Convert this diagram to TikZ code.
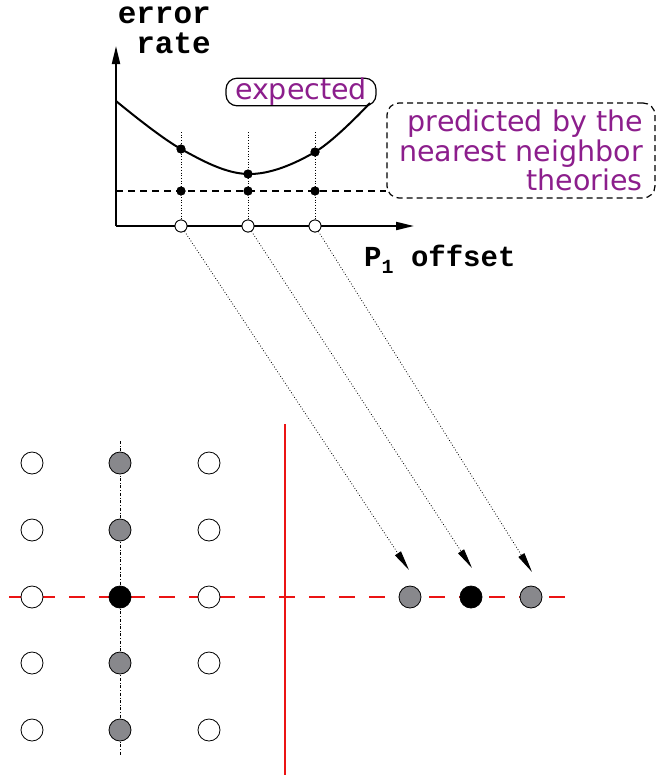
\documentclass[tikz,border=0pt]{standalone}
\usepackage{fontspec}
\newfontfamily\cour{Liberation Mono}
\newfontfamily\hand{DejaVu Sans}
\usetikzlibrary{arrows.meta}
\definecolor{handpurple}{RGB}{140,30,140}
\definecolor{dotgray}{RGB}{136,136,140}
\definecolor{gridred}{RGB}{235,20,20}
\tikzset{
  axis/.style={line width=2pt,-{Triangle[length=18pt,width=8pt]}},
  bdot/.style={circle,fill=black,inner sep=0pt,minimum size=9pt},
  wdot/.style={circle,draw=black,fill=white,line width=0.8pt,inner sep=0pt,minimum size=12pt},
  guide/.style={dotted,line width=0.7pt},
  maparrow/.style={dotted,line width=0.8pt,-{Triangle[length=20pt,width=7pt]}},
  lat/.style={circle,draw=black,line width=0.8pt,inner sep=0pt,minimum size=22pt,fill=white},
  latg/.style={lat,fill=dotgray},
  latb/.style={lat,fill=black},
  htext/.style={text=handpurple,font=\hand\fontsize{28.5}{29.5}\selectfont},
  mono/.style={font=\cour\bfseries\fontsize{31}{30}\selectfont,inner sep=0pt},
}
\begin{document}
\begin{tikzpicture}[x=1pt,y=-1pt]
\useasboundingbox (0,0) rectangle (657,777);
% axes
\coordinate (O) at (116,226);
\coordinate (ytip) at (116,46);
\coordinate (xtip) at (414,226);
\draw[axis] (O) -- (ytip);
\draw[axis] (O) -- (xtip);
\node[mono,align=right,anchor=base east] (ylab) at (211,53) {error\\rate};
\node[mono,font=\cour\bfseries\fontsize{29}{30}\selectfont,anchor=base west] (xlab) at (364,266) {P\raisebox{-7pt}{\fontsize{20}{20}\selectfont 1} offset};
% labels
\node[htext,draw=black,line width=1.2pt,rounded corners=11pt,minimum width=150pt,minimum height=22pt,inner sep=0pt] (exp) at (301,92) {expected};
\node[htext,draw=black,dash pattern=on 6pt off 4pt,line width=1.2pt,rounded corners=12pt,minimum width=268pt,minimum height=95pt,align=right,inner sep=3pt] (pred) at (521,150.5) {predicted by the\\nearest neighbor\\theories};
% guides
\foreach \i/\x in {1/181,2/248,3/315}{
  \coordinate (top\i) at (\x,132);
  \node[bdot] (n\i) at (\x,191) {};
  \node[wdot] (w\i) at (\x,226) {};
  \draw[guide] (top\i) -- (w\i);
}
\node[bdot] (e1) at (181,149) {};
\node[bdot] (e2) at (248,174) {};
\node[bdot] (e3) at (315,152) {};
% curves
\draw[line width=2pt] plot[smooth,tension=0.6] coordinates {(116,101) (181,149) (248,174) (315,152) (370,103)};
\draw[dash pattern=on 7pt off 5pt,line width=1.8pt] (116,191) -- (pred.west|-116,191);
\foreach \i in {1,2,3} \node[bdot] at (n\i) {};
\foreach \i in {1,2,3} \node[bdot] at (e\i) {};
\foreach \i in {1,2,3} \node[wdot] at (w\i) {};
% lattice
\draw[dash dot,line width=0.7pt] (120,441) -- (120,756);
\draw[draw=gridred,dash pattern=on 16pt off 14pt,line width=1.2pt] (9,597) -- (572,597);
\draw[draw=gridred,line width=2pt] (285,424) -- (285,775);
\foreach \r/\y in {1/463,2/530,3/597,4/663,5/730}{
  \node[lat] (a\r) at (32,\y) {};
  \node[lat] (c\r) at (209,\y) {};
}
\foreach \r/\y in {1/463,2/530,4/663,5/730}{ \node[latg] (b\r) at (120,\y) {}; }
\node[latb] (b3) at (120,597) {};
% right points
\node[latg] (r1) at (410,597) {};
\node[latb] (r2) at (471,597) {};
\node[latg] (r3) at (531,597) {};
\coordinate (t1) at (409,570);
\coordinate (t2) at (472,568);
\coordinate (t3) at (532,572);
\foreach \i in {1,2,3} \draw[maparrow] (w\i) -- (t\i);
\end{tikzpicture}
\end{document}
